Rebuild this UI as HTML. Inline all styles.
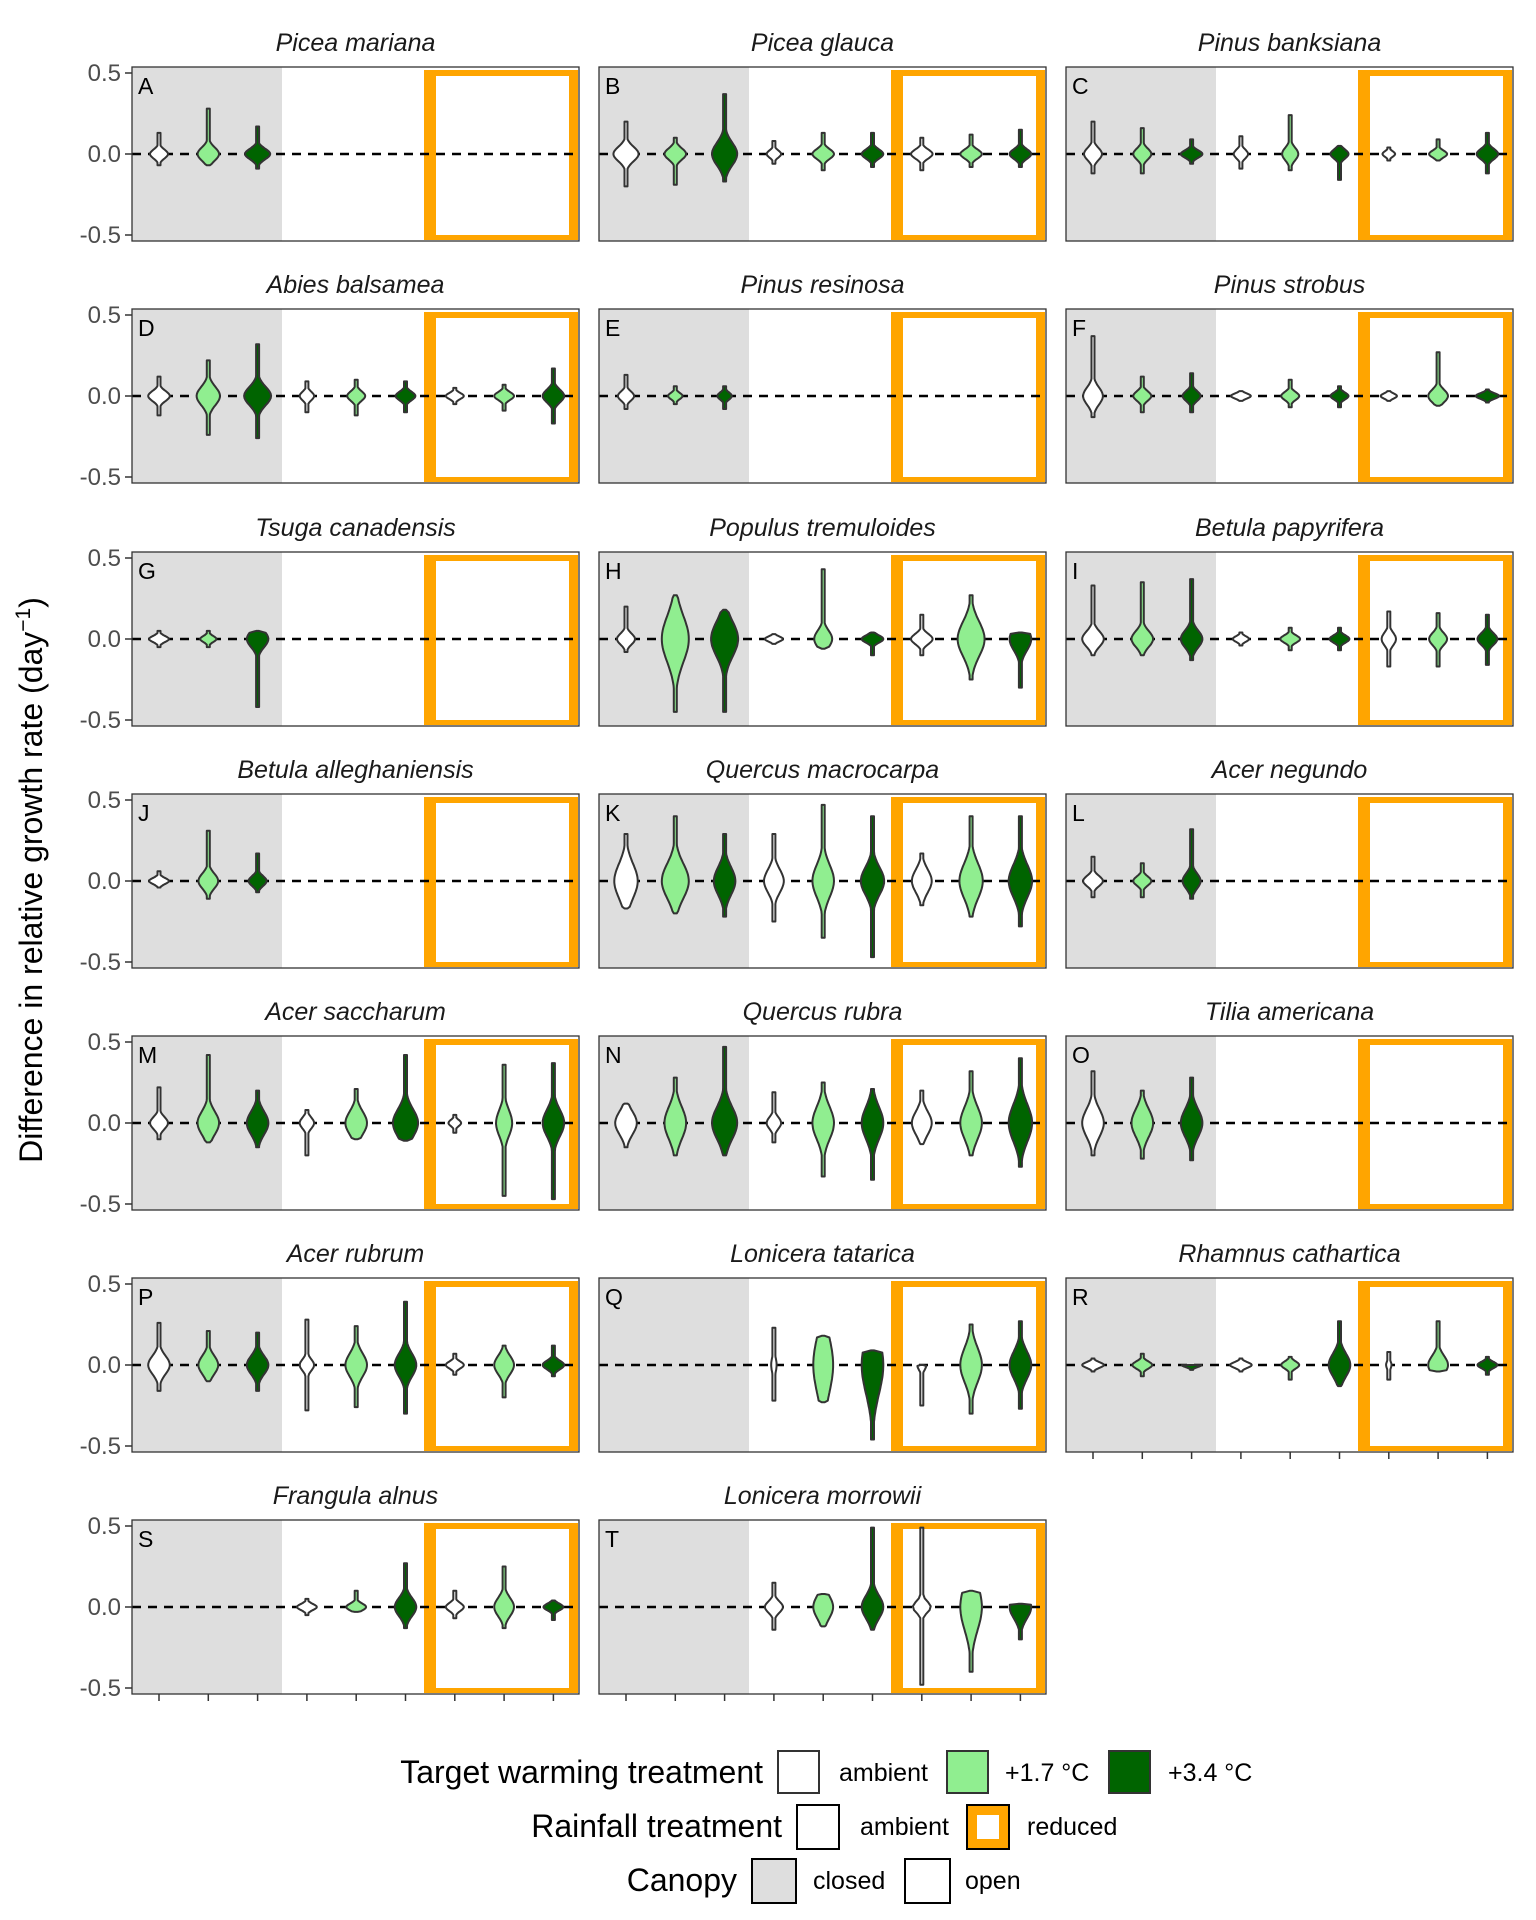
<!DOCTYPE html>
<html><head><meta charset="utf-8">
<style>
html,body{margin:0;padding:0;background:#fff;}
svg{display:block;font-family:"Liberation Sans",Arial,sans-serif;}
</style></head>
<body>
<svg id="s" width="1536" height="1920" viewBox="0 0 1536 1920" xmlns="http://www.w3.org/2000/svg">
<rect width="1536" height="1920" fill="#fff"/>
<text x="42" y="880" font-size="32" text-anchor="middle" transform="rotate(-90 42 880)" fill="#000">Difference in relative growth rate (day<tspan dy="-12" font-size="21">−1</tspan><tspan dy="12">)</tspan></text>
<!-- legend -->
<g font-size="25" fill="#000">
<text x="763" y="1783" font-size="32" text-anchor="end">Target warming treatment</text>
<rect x="778" y="1751" width="41" height="42" fill="#fff" stroke="#333" stroke-width="2"/>
<text x="839" y="1781">ambient</text>
<rect x="947" y="1751" width="41" height="42" fill="#90EE90" stroke="#333" stroke-width="2"/>
<text x="1005" y="1781">+1.7 °C</text>
<rect x="1109" y="1751" width="41" height="42" fill="#006400" stroke="#333" stroke-width="2"/>
<text x="1168" y="1781">+3.4 °C</text>
<text x="782" y="1837" font-size="32" text-anchor="end">Rainfall treatment</text>
<rect x="797" y="1805" width="42" height="44" fill="#fff" stroke="#000" stroke-width="2"/>
<text x="860" y="1835">ambient</text>
<rect x="967" y="1805" width="42" height="44" fill="#FFA500" stroke="#000" stroke-width="2"/>
<rect x="977" y="1815" width="22" height="24" fill="#fff"/>
<text x="1027" y="1835">reduced</text>
<text x="737" y="1891" font-size="32" text-anchor="end">Canopy</text>
<rect x="752" y="1859" width="44" height="44" fill="#dedede" stroke="#000" stroke-width="2"/>
<text x="813" y="1889">closed</text>
<rect x="905" y="1859" width="45" height="44" fill="#fff" stroke="#000" stroke-width="2"/>
<text x="965" y="1889">open</text>
</g>
</svg>
<script>
var S=document.getElementById('s'),NS='http://www.w3.org/2000/svg';
function el(t,a,txt){var e=document.createElementNS(NS,t);for(var k in a)e.setAttribute(k,a[k]);if(txt!==undefined)e.textContent=txt;S.appendChild(e);return e;}
var cols=[132,599,1066],W=447,tops=[67,309,552,794,1036,1278,1520],H=174;
var fills=['#fff','#90EE90','#006400'];
var P=[
['Picea mariana',{1:[-.07,.13,10],2:[-.07,.28,12],3:[-.09,.17,14]}],
['Picea glauca',{1:[-.2,.2,14],2:[-.19,.1,12],3:[-.17,.37,14,.1],4:[-.06,.08,8],5:[-.1,.13,12],6:[-.08,.13,12],7:[-.1,.1,12],8:[-.08,.12,12],9:[-.08,.15,12]}],
['Pinus banksiana',{1:[-.12,.2,10],2:[-.12,.16,10],3:[-.06,.09,12],4:[-.09,.11,8],5:[-.1,.24,9],6:[-.16,.05,10],7:[-.04,.04,7],8:[-.04,.09,10],9:[-.12,.13,12]}],
['Abies balsamea',{1:[-.12,.12,12],2:[-.24,.22,13,.08],3:[-.26,.32,15,.08],4:[-.1,.09,8],5:[-.12,.1,10],6:[-.1,.09,11],7:[-.05,.05,10],8:[-.09,.07,11],9:[-.17,.17,12]}],
['Pinus resinosa',{1:[-.08,.13,9],2:[-.05,.06,8],3:[-.08,.06,8]}],
['Pinus strobus',{1:[-.13,.37,11],2:[-.1,.12,10],3:[-.1,.14,10],4:[-.03,.03,11],5:[-.07,.1,10],6:[-.07,.06,10],7:[-.03,.03,9],8:[-.06,.27,11],9:[-.04,.04,13]}],
['Tsuga canadensis',{1:[-.05,.05,11],2:[-.05,.05,9],3:[-.42,.05,12]}],
['Populus tremuloides',{1:[-.08,.2,10],2:[-.45,.27,15,.2],3:[-.45,.18,15,.15],4:[-.03,.03,10],5:[-.06,.43,10],6:[-.1,.04,12],7:[-.1,.15,12],8:[-.25,.27,15,.15],9:[-.3,.04,12,.1]}],
['Betula papyrifera',{1:[-.1,.33,12],2:[-.1,.35,12],3:[-.13,.37,12],4:[-.04,.04,9],5:[-.07,.07,11],6:[-.07,.07,11],7:[-.17,.17,8],8:[-.17,.16,10],9:[-.16,.15,11]}],
['Betula alleghaniensis',{1:[-.04,.06,11],2:[-.11,.31,11],3:[-.07,.17,10]}],
['Quercus macrocarpa',{1:[-.17,.29,13,.15],2:[-.2,.4,15,.15],3:[-.22,.29,12,.12],4:[-.25,.29,11,.1],5:[-.35,.47,12,.14],6:[-.47,.4,13,.12],7:[-.15,.17,11,.1],8:[-.22,.4,13,.15],9:[-.28,.4,13,.14]}],
['Acer negundo',{1:[-.1,.15,11],2:[-.1,.11,10],3:[-.11,.32,10]}],
['Acer saccharum',{1:[-.1,.22,10],2:[-.12,.42,12,.1],3:[-.15,.2,12,.1],4:[-.2,.08,8],5:[-.1,.21,12,.1],6:[-.11,.42,14,.12],7:[-.06,.05,7],8:[-.45,.36,9],9:[-.47,.37,12]}],
['Quercus rubra',{1:[-.15,.12,12,.1],2:[-.2,.28,12,.14],3:[-.2,.47,14,.14],4:[-.12,.19,8],5:[-.33,.25,12,.14],6:[-.35,.21,12,.14],7:[-.13,.2,11,.1],8:[-.2,.32,12,.14],9:[-.27,.4,13,.16]}],
['Tilia americana',{1:[-.2,.32,12,.12],2:[-.22,.2,12,.12],3:[-.23,.28,12,.12]}],
['Acer rubrum',{1:[-.16,.26,12,.08],2:[-.1,.21,11,.08],3:[-.16,.2,12,.08],4:[-.28,.28,8,.05],5:[-.26,.24,12,.1],6:[-.3,.39,12,.1],7:[-.06,.07,10],8:[-.2,.12,11,.08],9:[-.07,.12,12]}],
['Lonicera tatarica',{4:[-.22,.23,3],5:[-.23,.18,11,.25],6:[-.46,.09,12,.25],7:[-.25,0,5],8:[-.3,.25,12,.15],9:[-.27,.27,12,.12]}],
['Rhamnus cathartica',{1:[-.04,.04,12],2:[-.07,.07,11],3:[-.03,0,11],4:[-.04,.04,12],5:[-.09,.05,10],6:[-.13,.27,12,.1],7:[-.09,.08,3],8:[-.04,.27,11,.08],9:[-.06,.05,11]}],
['Frangula alnus',{4:[-.05,.05,11],5:[-.03,.1,11],6:[-.13,.27,12,.08],7:[-.07,.1,10],8:[-.13,.25,11,.08],9:[-.08,.04,11]}],
['Lonicera morrowii',{4:[-.14,.15,10],5:[-.12,.08,11,.1],6:[-.14,.49,12,.1],7:[-.48,.49,10,.05],8:[-.4,.1,12,.2],9:[-.2,.02,12,.1]}]
];
P.forEach(function(p,i){
 var r=Math.floor(i/3),c=i%3,x0=cols[c],y0=tops[r];
 function Y(v){return y0+87-162*v;}
 el('text',{x:x0+W/2,y:y0-16,'font-size':25,'font-style':'italic','text-anchor':'middle',fill:'#1a1a1a'},p[0]);
 el('rect',{x:x0,y:y0,width:W,height:H,fill:'#fff'});
 el('rect',{x:x0,y:y0,width:150,height:H,fill:'#dedede'});
 el('rect',{x:x0+292,y:y0+3,width:154,height:170,fill:'#FFA500'});
 el('rect',{x:x0+304,y:y0+9,width:133,height:159,fill:'#fff'});
 el('line',{x1:x0,x2:x0+W,y1:Y(0),y2:Y(0),stroke:'#000','stroke-width':2.5,'stroke-dasharray':'9,7'});
 for(var k in p[1]){
  var d=p[1][k],mn=d[0],mx=d[1],w=d[2]*0.9,s=d[3]||(0.12*(mx-mn)+0.015);
  var cx=x0+27+49.3*(k-1),L=[],R=[],n=40;
  for(var j=0;j<=n;j++){var v=mx-(mx-mn)*j/n;var hw=Math.max(1.5,w*Math.exp(-Math.pow(v/s,2)));
   if(j==0||j==n)hw=1.5;L.push((cx-hw).toFixed(1)+','+Y(v).toFixed(1));R.push((cx+hw).toFixed(1)+','+Y(v).toFixed(1));}
  el('path',{d:'M'+R.join(' L')+' L'+L.reverse().join(' L')+'Z',fill:fills[(k-1)%3],stroke:'#333','stroke-width':2,'stroke-linejoin':'round'});
 }
 el('rect',{x:x0,y:y0,width:W,height:H,fill:'none',stroke:'#333','stroke-width':1.3});
 el('text',{x:x0+6,y:y0+27,'font-size':23,fill:'#000'},String.fromCharCode(65+i));
 if(c==0){[[0.5,'0.5'],[0,'0.0'],[-0.5,'-0.5']].forEach(function(t){
   el('line',{x1:x0-7,x2:x0,y1:Y(t[0]),y2:Y(t[0]),stroke:'#333','stroke-width':1.5});
   el('text',{x:x0-11,y:Y(t[0])+8,'font-size':24,'text-anchor':'end',fill:'#4d4d4d'},t[1]);});}
 if(i>=17){for(var q=0;q<9;q++){var tx=x0+27+49.3*q;el('line',{x1:tx,x2:tx,y1:y0+H,y2:y0+H+7,stroke:'#333','stroke-width':1.5});}}
});
</script>
</body></html>
